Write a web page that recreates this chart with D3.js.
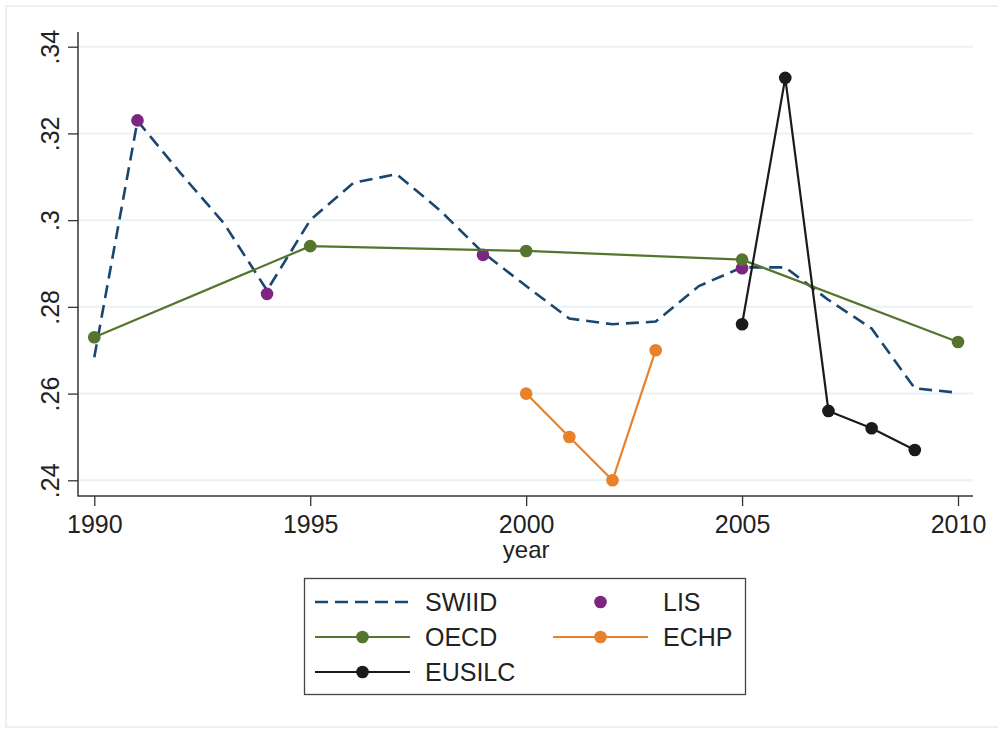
<!DOCTYPE html>
<html>
<head>
<meta charset="utf-8">
<script src="https://cdn.jsdelivr.net/npm/d3@7"></script>
<style>
body { margin: 0; background: white; }
text { font-family: "Liberation Sans", Arial, sans-serif; fill: #222; }
</style>
</head>
<body>
<div id="vizContainer"></div>
<script>
let w = 998;
let h = 729;

// data
let swiidYears = [1990, 1991, 1992, 1993, 1994, 1995, 1996, 1997, 1998, 1999, 2000,
	2001, 2002, 2003, 2004, 2005, 2006, 2007, 2008, 2009, 2010];
let swiidValues = [0.2684, 0.3229, 0.3108, 0.2993, 0.2838, 0.3, 0.3086, 0.3106, 0.3023, 0.2925, 0.2848,
	0.2773, 0.276, 0.2766, 0.2848, 0.2891, 0.2891, 0.2816, 0.275, 0.2612, 0.2602];

let lisYears = [1991, 1994, 1999, 2005];
let lisValues = [0.323, 0.283, 0.292, 0.2889];

let oecdYears = [1990, 1995, 2000, 2005, 2010];
let oecdValues = [0.273, 0.294, 0.2929, 0.2909, 0.2719];

let echpYears = [2000, 2001, 2002, 2003];
let echpValues = [0.26, 0.25, 0.24, 0.27];

let eusilcYears = [2005, 2006, 2007, 2008, 2009];
let eusilcValues = [0.276, 0.3328, 0.256, 0.252, 0.247];

let xTicks = [1990, 1995, 2000, 2005, 2010];
let yTicks = [0.24, 0.26, 0.28, 0.3, 0.32, 0.34];

let navy = "#1a476f";
let purple = "#7d2681";
let green = "#55752f";
let orange = "#e8822a";
let black = "#1c1a1b";

let viz = d3.select('#vizContainer').append('svg')
	.attr('width', w)
	.attr('height', h)
	.style('background-color', 'white');

// outer frame
viz.append('rect')
	.attr('x', 6).attr('y', 6)
	.attr('width', 1000).attr('height', 721)
	.attr('fill', 'none')
	.attr('stroke', '#e8f1f3')
	.attr('stroke-width', 2);

let xScale = d3.scaleLinear().domain([1990, 2010]).range([94.3, 958]);
let yScale = d3.scaleLinear().domain([0.24, 0.34]).range([480.3, 46.7]);

let plotL = 78, plotR = 973, plotT = 32, plotB = 496;

// gridlines
viz.append('g').selectAll('line').data(yTicks).enter().append('line')
	.attr('x1', plotL).attr('x2', plotR)
	.attr('y1', d => yScale(d)).attr('y2', d => yScale(d))
	.attr('stroke', '#eaf2f4')
	.attr('stroke-width', 2);

// axes
let fmt = d => String(+d.toFixed(2)).replace(/^0/, '');

let yAxis = viz.append('g')
	.attr('transform', 'translate(' + plotL + ',0)')
	.call(d3.axisLeft(yScale).tickValues(yTicks).tickFormat(fmt).tickSize(10).tickPadding(10));
yAxis.select('.domain').remove();
yAxis.selectAll('.tick line').attr('stroke', '#333').attr('stroke-width', 1.3);
yAxis.selectAll('.tick text')
	.attr('transform', 'rotate(-90)')
	.attr('x', 0).attr('y', -19)
	.attr('dy', 0)
	.attr('text-anchor', 'middle')
	.style('font-size', '25px')
	.attr('fill', '#222');

let xAxis = viz.append('g')
	.attr('transform', 'translate(0,' + plotB + ')')
	.call(d3.axisBottom(xScale).tickValues(xTicks).tickFormat(d3.format('d')).tickSize(10));
xAxis.select('.domain').remove();
xAxis.selectAll('.tick line').attr('stroke', '#333').attr('stroke-width', 1.3);
xAxis.selectAll('.tick text')
	.attr('y', 37).attr('dy', 0)
	.style('font-size', '25px')
	.attr('fill', '#222');

viz.append('line')
	.attr('x1', plotL).attr('x2', plotL).attr('y1', plotT).attr('y2', plotB + 0.5)
	.attr('stroke', '#333').attr('stroke-width', 1.5);
viz.append('line')
	.attr('x1', plotL).attr('x2', plotR).attr('y1', plotB).attr('y2', plotB)
	.attr('stroke', '#333').attr('stroke-width', 1.5);

viz.append('text')
	.attr('x', xScale(2000)).attr('y', 558)
	.attr('text-anchor', 'middle')
	.style('font-size', '24px')
	.text('year');

// series
let line = d3.line().x(d => xScale(d[0])).y(d => yScale(d[1]));

function drawLine(years, values, color, dash) {
	let pts = years.map((y, i) => [y, values[i]]);
	viz.append('path')
		.datum(pts)
		.attr('d', line)
		.attr('fill', 'none')
		.attr('stroke', color)
		.attr('stroke-width', dash ? 2.6 : 2.2)
		.attr('stroke-dasharray', dash ? '13,7' : null);
}

function drawDots(years, values, color) {
	let pts = years.map((y, i) => [y, values[i]]);
	viz.append('g').selectAll('circle').data(pts).enter().append('circle')
		.attr('cx', d => xScale(d[0]))
		.attr('cy', d => yScale(d[1]))
		.attr('r', 6.3)
		.attr('fill', color);
}

drawLine(swiidYears, swiidValues, navy, true);
drawDots(lisYears, lisValues, purple);
drawLine(oecdYears, oecdValues, green, false);
drawDots(oecdYears, oecdValues, green);
drawLine(echpYears, echpValues, orange, false);
drawDots(echpYears, echpValues, orange);
drawLine(eusilcYears, eusilcValues, black, false);
drawDots(eusilcYears, eusilcValues, black);

// legend
let legendItems = [
	{ name: "SWIID", color: navy, line: true, dash: true, dot: false, col: 0, row: 0 },
	{ name: "LIS", color: purple, line: false, dash: false, dot: true, col: 1, row: 0 },
	{ name: "OECD", color: green, line: true, dash: false, dot: true, col: 0, row: 1 },
	{ name: "ECHP", color: orange, line: true, dash: false, dot: true, col: 1, row: 1 },
	{ name: "EUSILC", color: black, line: true, dash: false, dot: true, col: 0, row: 2 }
];

viz.append('rect')
	.attr('x', 304.5).attr('y', 578.5)
	.attr('width', 441).attr('height', 116)
	.attr('fill', 'white')
	.attr('stroke', '#444')
	.attr('stroke-width', 1.3);

let legend = viz.append('g').selectAll('g').data(legendItems).enter().append('g')
	.attr('transform', d => 'translate(' + (d.col === 0 ? 315 : 553) + ',' + (602 + d.row * 35) + ')');

legend.filter(d => d.line).append('line')
	.attr('x1', 0).attr('x2', 95).attr('y1', 0).attr('y2', 0)
	.attr('stroke', d => d.color)
	.attr('stroke-width', d => d.dash ? 2.6 : 2.2)
	.attr('stroke-dasharray', d => d.dash ? '13,7' : null);

legend.filter(d => d.dot).append('circle')
	.attr('cx', 47.5).attr('cy', 0).attr('r', 6.3)
	.attr('fill', d => d.color);

legend.append('text')
	.attr('x', 110).attr('y', 9)
	.style('font-size', '25px')
	.text(d => d.name);
</script>
</body>
</html>
